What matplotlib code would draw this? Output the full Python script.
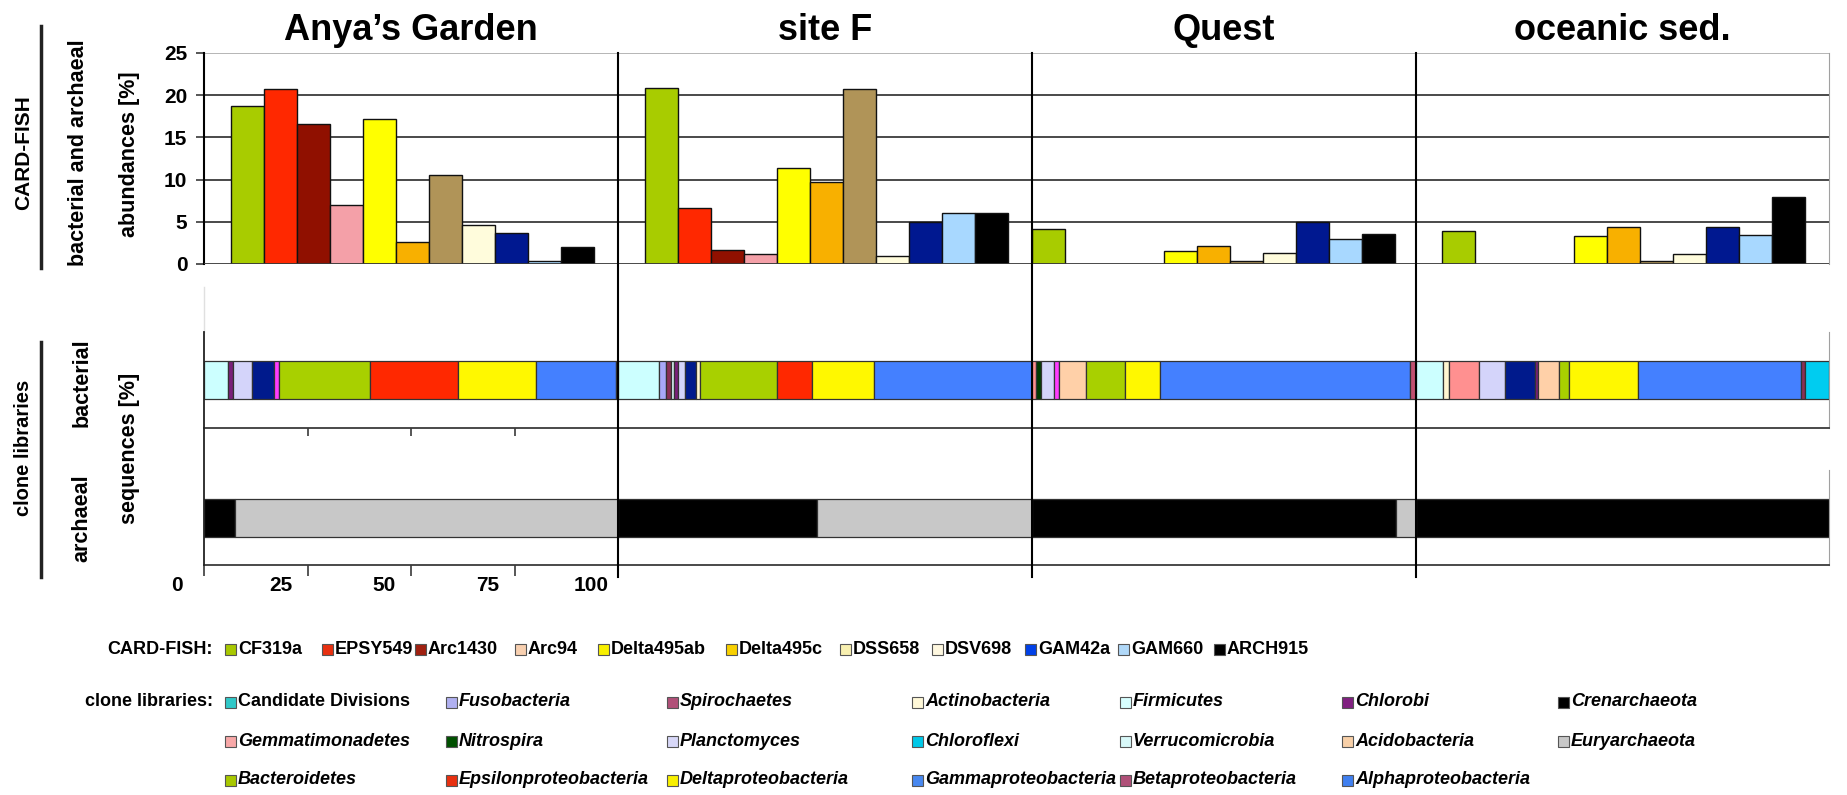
import matplotlib.pyplot as plt
from matplotlib.patches import Rectangle
from matplotlib.lines import Line2D

plt.rcParams['font.family'] = ['Liberation Sans', 'DejaVu Sans']
plt.rcParams['font.weight'] = 'bold'

# ---- data -------------------------------------------------------------
sites = ["Anya\u2019s Garden", "site F", "Quest", "oceanic sed."]
probes = ["CF319a", "EPSY549", "Arc1430", "Arc94", "Delta495ab", "Delta495c",
          "DSS658", "DSV698", "GAM42a", "GAM660", "ARCH915"]

# CARD-FISH abundances [%] per probe
anya_fish = [18.7, 20.7, 16.6, 7.0, 17.2, 2.6, 10.5, 4.6, 3.7, 0.4, 2.0]
sitef_fish = [20.9, 6.6, 1.7, 1.2, 11.4, 9.7, 20.7, 1.0, 5.0, 6.1, 6.0]
quest_fish = [4.2, 0, 0, 0, 1.5, 2.1, 0.4, 1.3, 5.0, 3.0, 3.5]
ocean_fish = [3.9, 0, 0, 0, 3.3, 4.4, 0.3, 1.2, 4.4, 3.4, 7.9]

# bacterial clone libraries, sequences [%]
anya_bac_taxa = ["Firmicutes", "Chlorobi", "Planctomyces", "unassigned", "other",
                 "Bacteroidetes", "Epsilonproteobacteria", "Deltaproteobacteria",
                 "Gammaproteobacteria", "Betaproteobacteria"]
anya_bac_pct = [5.9, 1.2, 4.4, 5.4, 1.3, 21.8, 21.4, 18.9, 19.1, 0.6]

sitef_bac_taxa = ["Firmicutes", "Fusobacteria", "Spirochaetes", "Verrucomicrobia",
                  "Chlorobi", "Planctomyces", "unassigned", "Actinobacteria",
                  "Bacteroidetes", "Epsilonproteobacteria", "Deltaproteobacteria",
                  "Gammaproteobacteria"]
sitef_bac_pct = [9.9, 1.8, 1.0, 0.8, 1.1, 1.6, 2.7, 1.0, 18.5, 8.4, 15.0, 38.2]

quest_bac_taxa = ["Gemmatimonadetes", "Nitrospira", "Planctomyces", "other",
                  "Acidobacteria", "Bacteroidetes", "Deltaproteobacteria",
                  "Gammaproteobacteria", "Betaproteobacteria"]
quest_bac_pct = [1.1, 1.2, 3.5, 1.3, 6.9, 10.1, 9.2, 65.2, 1.5]

ocean_bac_taxa = ["Firmicutes", "Actinobacteria", "Gemmatimonadetes", "Planctomyces",
                  "unassigned", "Chlorobi", "Acidobacteria", "Bacteroidetes",
                  "Deltaproteobacteria", "Gammaproteobacteria", "Spirochaetes",
                  "Chloroflexi"]
ocean_bac_pct = [6.6, 1.3, 7.4, 6.2, 7.3, 0.7, 5.1, 2.4, 16.8, 39.5, 0.8, 5.9]

# archaeal clone libraries, sequences [%]
arch_taxa = ["Crenarchaeota", "Euryarchaeota"]
anya_arch_pct = [7.4, 92.6]
sitef_arch_pct = [48.0, 52.0]
quest_arch_pct = [94.8, 5.2]
ocean_arch_pct = [100.0, 0.0]

clone_ticks = [0, 25, 50, 75, 100]

fish_legend = probes
clone_legend = [
    ["Candidate Divisions", "Fusobacteria", "Spirochaetes", "Actinobacteria",
     "Firmicutes", "Chlorobi", "Crenarchaeota"],
    ["Gemmatimonadetes", "Nitrospira", "Planctomyces", "Chloroflexi",
     "Verrucomicrobia", "Acidobacteria", "Euryarchaeota"],
    ["Bacteroidetes", "Epsilonproteobacteria", "Deltaproteobacteria",
     "Gammaproteobacteria", "Betaproteobacteria", "Alphaproteobacteria"],
]

fish_values = [anya_fish, sitef_fish, quest_fish, ocean_fish]
bac_taxa = [anya_bac_taxa, sitef_bac_taxa, quest_bac_taxa, ocean_bac_taxa]
bac_pct = [anya_bac_pct, sitef_bac_pct, quest_bac_pct, ocean_bac_pct]
arch_pct = [anya_arch_pct, sitef_arch_pct, quest_arch_pct, ocean_arch_pct]

# ---- colours ----------------------------------------------------------
fish_bar_colors = ["#a8cc00", "#ff2800", "#901000", "#f4a0a8", "#ffff00", "#f8b000",
                   "#b09458", "#fffcdc", "#001890", "#a8d8ff", "#000000"]
fish_legend_colors = ["#a8c800", "#e83010", "#a02010", "#f8d0b0", "#f8f000", "#f8d000",
                      "#f8f0b0", "#fff8e0", "#0040e8", "#b0d8f8", "#000000"]
clone_bar_colors = {
    "Firmicutes": "#ccffff", "Chlorobi": "#7a1f7a", "Planctomyces": "#d4d4fa",
    "unassigned": "#001a8c", "other": "#ff3cff", "Bacteroidetes": "#a8d000",
    "Epsilonproteobacteria": "#ff2800", "Deltaproteobacteria": "#fff800",
    "Gammaproteobacteria": "#4480ff", "Betaproteobacteria": "#c05070",
    "Fusobacteria": "#a8a8f8", "Spirochaetes": "#8a2f55", "Verrucomicrobia": "#d8f4f4",
    "Actinobacteria": "#fff6d0", "Gemmatimonadetes": "#ff9090", "Nitrospira": "#003c00",
    "Acidobacteria": "#ffd0a8", "Chloroflexi": "#00ccf0",
    "Crenarchaeota": "#000000", "Euryarchaeota": "#c8c8c8",
}
clone_legend_colors = {
    "Candidate Divisions": "#30c8c8", "Fusobacteria": "#b0b0f0", "Spirochaetes": "#b05078",
    "Actinobacteria": "#fff8d8", "Firmicutes": "#d8ffff", "Chlorobi": "#802080",
    "Crenarchaeota": "#000000", "Gemmatimonadetes": "#f8a8a8", "Nitrospira": "#005000",
    "Planctomyces": "#d8d8f8", "Chloroflexi": "#00c8e8", "Verrucomicrobia": "#d8f8f8",
    "Acidobacteria": "#f8d0a8", "Euryarchaeota": "#c8c8c8", "Bacteroidetes": "#a8c800",
    "Epsilonproteobacteria": "#e83010", "Deltaproteobacteria": "#f8f000",
    "Gammaproteobacteria": "#4888f0", "Betaproteobacteria": "#b05078",
    "Alphaproteobacteria": "#4080f0",
}

# ---- layout (pixels) --------------------------------------------------
W, H = 1847, 795
fig = plt.figure(figsize=(W / 100, H / 100), dpi=100)


def fx(px):
    return px / W


def fy(py):
    return 1 - py / H


panel_x = [204, 618, 1032, 1416, 1829]
bar_lead = [27, 27, 0, 26]
slot_px = 33.0
top_y0, top_y1 = 53, 264
bac_y0, bac_y1 = 332, 428
arc_y0, arc_y1 = 470, 565
grid_col = "#3a3a3a"

for i in range(4):
    x0, x1 = panel_x[i], panel_x[i + 1]
    pw = x1 - x0

    # CARD-FISH bars
    ax = fig.add_axes([fx(x0), fy(top_y1), fx(pw), (top_y1 - top_y0) / H])
    left = -0.5 - bar_lead[i] / slot_px
    ax.set_xlim(left, left + pw / slot_px)
    ax.set_ylim(0, 25)
    vals = fish_values[i]
    for k, v in enumerate(vals):
        if v > 0:
            ax.bar(k, v, width=1.0, color=fish_bar_colors[k], edgecolor="#111111",
                   linewidth=1.0, zorder=3)
    for g in [5, 10, 15, 20]:
        ax.axhline(g, color=grid_col, lw=1.3, zorder=1)
    ax.axhline(0, color=grid_col, lw=1.3, zorder=4)
    ax.axhline(25, color="#b0b0b0", lw=1.3, zorder=1)
    for s in ax.spines.values():
        s.set_visible(False)
    ax.set_xticks([])
    if i == 0:
        ax.spines["left"].set_visible(True)
        ax.spines["left"].set_linewidth(1.5)
        ax.set_yticks([0, 5, 10, 15, 20, 25])
        ax.tick_params(axis="y", length=6, width=1.2, color=grid_col, pad=6,
                       labelsize=15)
        for t in ax.get_yticklabels():
            t.set_fontweight("bold")
    else:
        ax.set_yticks([])
    if i == 3:
        ax.spines["right"].set_visible(True)
        ax.spines["right"].set_color("#a0a0a0")
    ax.set_title(sites[i], fontsize=26, fontweight="bold", pad=9)
    ax.patch.set_alpha(0)

    # bacterial clone library bar
    axb = fig.add_axes([fx(x0), fy(bac_y1), fx(pw), (bac_y1 - bac_y0) / H])
    lefts = 0
    for name, p in zip(bac_taxa[i], bac_pct[i]):
        axb.barh(0, p, left=lefts, height=0.39, color=clone_bar_colors[name],
                 edgecolor="#333333", linewidth=0.9)
        lefts += p
    axb.set_xlim(0, 100)
    axb.set_ylim(-0.5, 0.5)
    axb.set_yticks([])
    for s in axb.spines.values():
        s.set_visible(False)
    axb.spines["bottom"].set_visible(True)
    axb.spines["bottom"].set_color(grid_col)
    axb.spines["bottom"].set_linewidth(1.3)
    if i == 0:
        axb.set_xticks([25, 50, 75])
        axb.tick_params(axis="x", length=6, width=1.2, color=grid_col, labelbottom=False)
    else:
        axb.set_xticks([])
    if i == 3:
        axb.spines["right"].set_visible(True)
        axb.spines["right"].set_color("#a0a0a0")
    axb.patch.set_alpha(0)

    # archaeal clone library bar
    axa = fig.add_axes([fx(x0), fy(arc_y1), fx(pw), (arc_y1 - arc_y0) / H])
    lefts = 0
    for name, p in zip(arch_taxa, arch_pct[i]):
        if p > 0:
            axa.barh(0, p, left=lefts, height=0.4, color=clone_bar_colors[name],
                     edgecolor="#333333", linewidth=0.9)
        lefts += p
    axa.set_xlim(0, 100)
    axa.set_ylim(-0.5, 0.5)
    axa.set_yticks([])
    for s in axa.spines.values():
        s.set_visible(False)
    axa.spines["bottom"].set_visible(True)
    axa.spines["bottom"].set_color(grid_col)
    axa.spines["bottom"].set_linewidth(1.3)
    if i == 0:
        axa.set_xticks(clone_ticks)
        axa.tick_params(axis="x", length=8, width=1.2, color=grid_col, labelbottom=False)
        for t in clone_ticks:
            axa.text(t - 6.5, -0.62, str(t), ha="center", va="top", fontsize=15,
                     fontweight="bold", clip_on=False)
    else:
        axa.set_xticks([])
    if i == 3:
        axa.spines["right"].set_visible(True)
        axa.spines["right"].set_color("#a0a0a0")
    axa.patch.set_alpha(0)

# panel separators through both sections, and the left axis of the clone rows
for xs in panel_x[1:4]:
    fig.add_artist(Line2D([fx(xs), fx(xs)], [fy(top_y0), fy(577)], color="black", lw=1.5))
fig.add_artist(Line2D([fx(204), fx(204)], [fy(287), fy(bac_y0)], color="#e0e0e0", lw=1.0))
fig.add_artist(Line2D([fx(204), fx(204)], [fy(bac_y0), fy(arc_y1)], color="#222222", lw=1.3))

# section labels
fig.add_artist(Line2D([fx(41), fx(41)], [fy(26), fy(268)], color="#222222", lw=2.5))
fig.add_artist(Line2D([fx(41), fx(41)], [fy(342), fy(577)], color="#222222", lw=2.5))
fig.text(fx(24), fy(153), "CARD-FISH", rotation=90, ha="center", va="center",
         fontsize=15, fontweight="bold")
fig.text(fx(78), fy(153), "bacterial and archaeal", rotation=90, ha="center",
         va="center", fontsize=15.5, fontweight="bold")
fig.text(fx(130), fy(154), "abundances [%]", rotation=90, ha="center",
         va="center", fontsize=15.5, fontweight="bold")
fig.text(fx(24), fy(448), "clone libraries", rotation=90, ha="center", va="center",
         fontsize=14.5, fontweight="bold")
fig.text(fx(82), fy(383), "bacterial", rotation=90, ha="center", va="center",
         fontsize=15.5, fontweight="bold")
fig.text(fx(82), fy(518), "archaeal", rotation=90, ha="center", va="center",
         fontsize=15.5, fontweight="bold")
fig.text(fx(130), fy(448), "sequences [%]", rotation=90, ha="center", va="center",
         fontsize=15.5, fontweight="bold")

# ---- legend -----------------------------------------------------------
sw = 11
lfs = 13


def swatch(xp, yp, color):
    fig.add_artist(Rectangle((fx(xp), fy(yp + sw / 2)), sw / W, sw / H,
                             facecolor=color, edgecolor="#555555", lw=0.8,
                             transform=fig.transFigure))


fish_x = [225, 322, 415, 515, 598, 726, 840, 932, 1025, 1118, 1214]
fig.text(fx(213), fy(649), "CARD-FISH:", ha="right", va="center", fontsize=lfs,
         fontweight="bold")
for name, col, xp in zip(fish_legend, fish_legend_colors, fish_x):
    swatch(xp, 649, col)
    fig.text(fx(xp + sw + 2), fy(649), name, ha="left", va="center", fontsize=lfs,
             fontweight="bold")

clone_x = [225, 446, 667, 912, 1120, 1342, 1558]
clone_rows_y = [702, 741, 780]
fig.text(fx(213), fy(702), "clone libraries:", ha="right", va="center", fontsize=lfs,
         fontweight="bold")
for row, yp in zip(clone_legend, clone_rows_y):
    for name, xp in zip(row, clone_x):
        swatch(xp, yp, clone_legend_colors[name])
        style = "normal" if name == "Candidate Divisions" else "italic"
        fig.text(fx(xp + sw + 2), fy(yp), name, ha="left", va="center", fontsize=lfs,
                 fontweight="bold", fontstyle=style)

fig.savefig("out.png", dpi=100, facecolor="white")
